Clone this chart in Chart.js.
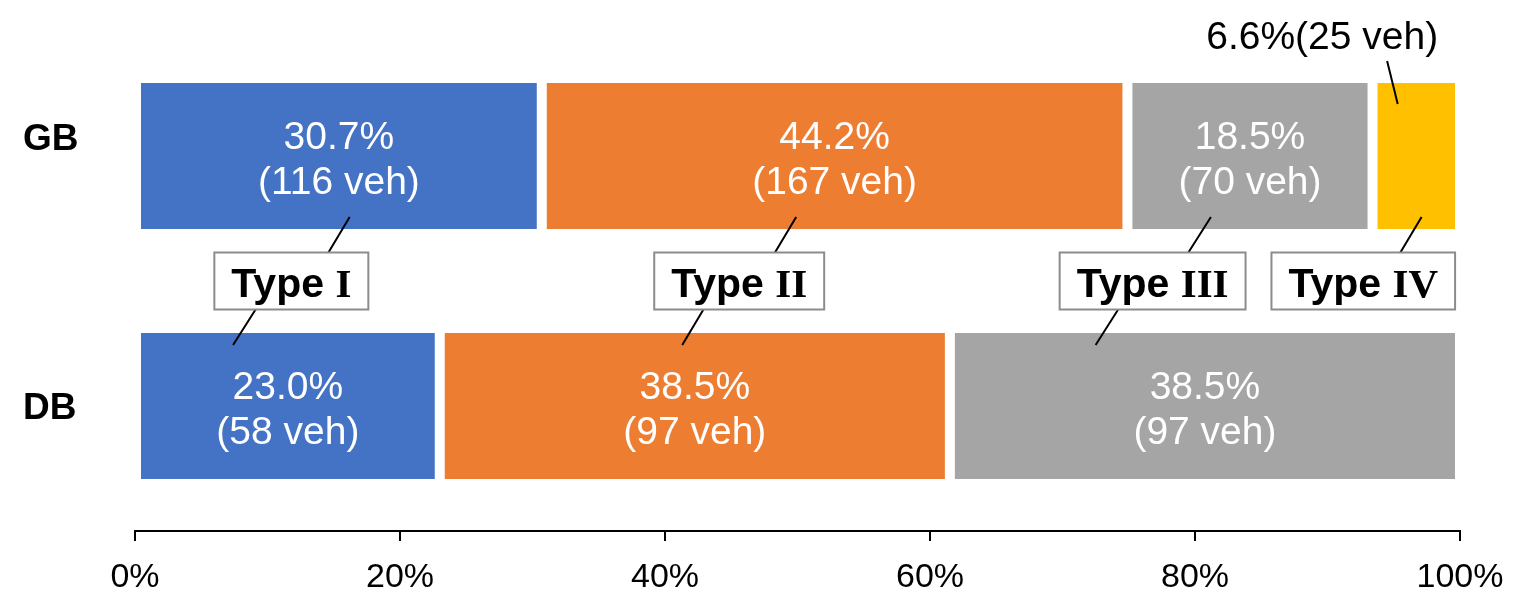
<!DOCTYPE html>
<html><head><meta charset="utf-8">
<script src="https://cdn.jsdelivr.net/npm/chart.js@4/dist/chart.umd.min.js"></script>
<style>html,body{margin:0;padding:0;background:#fff}#wrap{width:1523px;height:604px;position:relative}</style>
</head><body><div id="wrap"><canvas id="c"></canvas></div>
<script>
const categories = ['GB', 'DB'];
const typeNames = ['Type I', 'Type II', 'Type III', 'Type IV'];
const gbPct = [30.7, 44.2, 18.5, 6.6];
const gbVeh = [116, 167, 70, 25];
const dbPct = [23.0, 38.5, 38.5, 0];
const dbVeh = [58, 97, 97, 0];
const xTicks = [0, 20, 40, 60, 80, 100];

const colors = ['#4472C4', '#ED7D31', '#A5A5A5', '#FFC000'];
// annotation anchors in data units (x: percent, y: category index)
const boxX = [11.8, 45.6, 76.8, 92.7];
const leaderTop = [[14.6, 16.2], [48.3, 49.9], [79.5, 81.2], [95.5, 97.1]];
const leaderBottom = [[9.1, 7.4], [42.9, 41.3], [74.2, 72.5], null];
const catLabelDy = [-16, 3];
const SANS = '"Liberation Sans", Arial, sans-serif';
const SERIF = '"Liberation Serif", "Times New Roman", serif';

const datasets = typeNames.map((name, i) => ({
  label: name,
  data: [gbPct[i], dbPct[i]],
  backgroundColor: colors[i],
  borderColor: '#ffffff',
  borderWidth: { left: 5, right: 5, top: 0, bottom: 0 },
  borderSkipped: false,
  barPercentage: 0.584,
  categoryPercentage: 1.0
}));

const annot = {
  id: 'annot',
  afterDatasetsDraw(chart) {
    const ctx = chart.ctx, xs = chart.scales.x, ys = chart.scales.y;
    ctx.save();
    // category labels
    ctx.fillStyle = '#000';
    ctx.font = 'bold 37px ' + SANS;
    ctx.textAlign = 'left';
    ctx.textBaseline = 'middle';
    categories.forEach((c, i) => ctx.fillText(c, 23, ys.getPixelForValue(i) + catLabelDy[i]));

    // labels inside bars
    const pcts = [gbPct, dbPct], vehs = [gbVeh, dbVeh];
    ctx.font = '39px ' + SANS;
    ctx.textAlign = 'center';
    ctx.textBaseline = 'alphabetic';
    ctx.fillStyle = '#fff';
    chart.data.datasets.forEach((ds, i) => {
      const meta = chart.getDatasetMeta(i);
      meta.data.forEach((el, j) => {
        const p = pcts[j][i];
        if (!p) return;
        if (i === 3 && j === 0) return;
        const cx = (el.x + el.base) / 2;
        ctx.fillText(p.toFixed(1) + '%', cx, el.y - 6.7);
        ctx.fillText('(' + vehs[j][i] + ' veh)', cx, el.y + 38);
      });
    });

    // outside label for the small GB Type IV segment
    ctx.fillStyle = '#000';
    ctx.fillText(gbPct[3].toFixed(1) + '%(' + gbVeh[3] + ' veh)', xs.getPixelForValue(89.6), ys.getPixelForValue(-0.427));
    ctx.strokeStyle = '#000';
    ctx.lineWidth = 2;
    ctx.beginPath();
    ctx.moveTo(xs.getPixelForValue(94.5), ys.getPixelForValue(-0.38));
    ctx.lineTo(xs.getPixelForValue(95.3), ys.getPixelForValue(-0.208));
    ctx.stroke();

    // type boxes with leader lines
    const cy = ys.getPixelForValue(0.5);
    const bh = 57, top = cy - bh / 2, bot = cy + bh / 2;
    const yTopEnd = ys.getPixelForValue(0.244), yBotEnd = ys.getPixelForValue(0.756);
    typeNames.forEach((name, i) => {
      const lt = leaderTop[i], lb = leaderBottom[i];
      ctx.strokeStyle = '#000';
      ctx.lineWidth = 2;
      ctx.beginPath();
      ctx.moveTo(xs.getPixelForValue(lt[0]), top);
      ctx.lineTo(xs.getPixelForValue(lt[1]), yTopEnd);
      if (lb) {
        ctx.moveTo(xs.getPixelForValue(lb[0]), bot);
        ctx.lineTo(xs.getPixelForValue(lb[1]), yBotEnd);
      }
      ctx.stroke();

      const parts = name.split(' ');
      const w1txt = parts[0] + ' ';
      ctx.font = 'bold 41px ' + SANS;
      const w1 = ctx.measureText(w1txt).width;
      ctx.font = 'bold 41px ' + SERIF;
      const w2 = ctx.measureText(parts[1]).width;
      const tw = w1 + w2, pad = 17;
      const bx = xs.getPixelForValue(boxX[i]);
      const bw = tw + 2 * pad;
      ctx.fillStyle = '#fff';
      ctx.fillRect(bx - bw / 2, top, bw, bh);
      ctx.strokeStyle = '#8c8c8c';
      ctx.lineWidth = 2;
      ctx.strokeRect(bx - bw / 2, top, bw, bh);
      ctx.fillStyle = '#000';
      ctx.textAlign = 'left';
      ctx.textBaseline = 'alphabetic';
      const tx = bx - tw / 2;
      ctx.font = 'bold 41px ' + SANS;
      ctx.fillText(w1txt, tx, cy + 16);
      ctx.font = 'bold 41px ' + SERIF;
      ctx.fillText(parts[1], tx + w1, cy + 16);
      ctx.textAlign = 'center';
    });
    ctx.restore();
  }
};

new Chart(document.getElementById('c'), {
  type: 'bar',
  data: { labels: categories, datasets },
  options: {
    indexAxis: 'y',
    responsive: true,
    maintainAspectRatio: false,
    animation: false,
    layout: { padding: { left: 23, top: 31, right: 63, bottom: 0 } },
    plugins: { legend: { display: false }, tooltip: { enabled: false } },
    scales: {
      x: {
        type: 'linear',
        stacked: true,
        min: 0, max: 100,
        afterBuildTicks: s => { s.ticks = xTicks.map(v => ({ value: v })); },
        ticks: {
          callback: v => v + '%',
          font: { family: SANS, size: 34 },
          color: '#000',
          padding: 16,
          maxRotation: 0
        },
        grid: { drawOnChartArea: false, drawTicks: true, tickLength: 10, color: '#000', lineWidth: 2 },
        border: { display: true, color: '#000', width: 2 },
        afterFit: s => { s.height = 73; }
      },
      y: {
        type: 'category',
        stacked: true,
        grid: { display: false },
        border: { display: false },
        ticks: { display: false },
        afterFit: s => { s.width = 112; }
      }
    }
  },
  plugins: [annot]
});
</script>
</body></html>
